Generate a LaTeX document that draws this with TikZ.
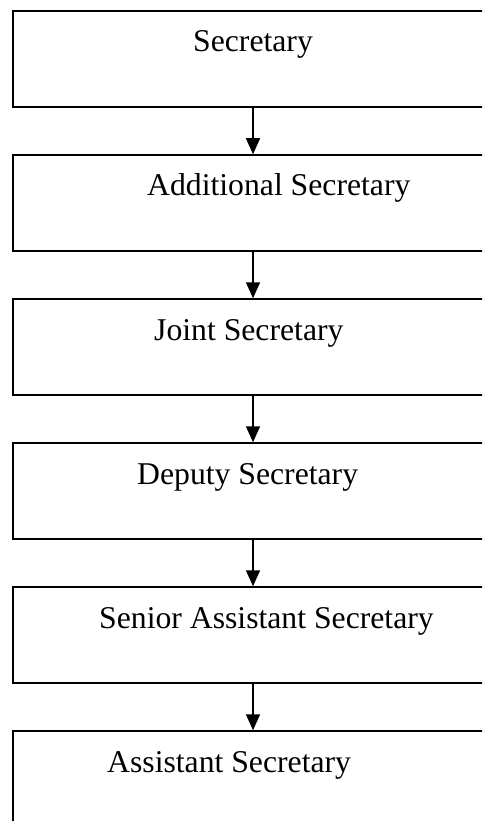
\documentclass[tikz,border=0pt]{standalone}
\usepackage{fontspec}
\setmainfont{Liberation Serif}
\usetikzlibrary{arrows.meta}

\begin{document}
\begin{tikzpicture}[x=1pt, y=1pt,
	post/.style={draw, line width=1.5pt, minimum width=480pt, minimum height=96pt, inner sep=0pt},
	title/.style={anchor=base west, inner sep=0pt, font=\fontsize{31.7}{38}\selectfont},
	link/.style={line width=1.5pt, -{Triangle[width=14pt,length=16pt]}}]
			%%%%% START %%%%%
			\useasboundingbox (0, 0) rectangle (482, -821);
			\clip (0, 0) rectangle (482, -821);
			
			\node[post] (secr) at (253, -59) {};
			\node[post] (addl) at (253, -203) {};
			\node[post] (jnt) at (253, -347) {};
			\node[post] (dep) at (253, -491) {};
			\node[post] (sras) at (253, -635) {};
			\node[post] (asst) at (253, -779) {};
			
			\node[title] (secr-t) at (193, -52) {Secretary};
			\node[title] (addl-t) at (147, -196) {Additional Secretary};
			\node[title] (jnt-t) at (154, -340) {Joint Secretary};
			\node[title] (dep-t) at (137, -484) {Deputy Secretary};
			\node[title] (sras-t) at (99, -628) {Senior Assistant Secretary};
			\node[title] (asst-t) at (107, -772) {Assistant Secretary};
			
			\draw[link] (secr) -- (addl);
			\draw[link] (addl) -- (jnt);
			\draw[link] (jnt) -- (dep);
			\draw[link] (dep) -- (sras);
			\draw[link] (sras) -- (asst);
			%%%%% END %%%%%
\end{tikzpicture}
\end{document}
